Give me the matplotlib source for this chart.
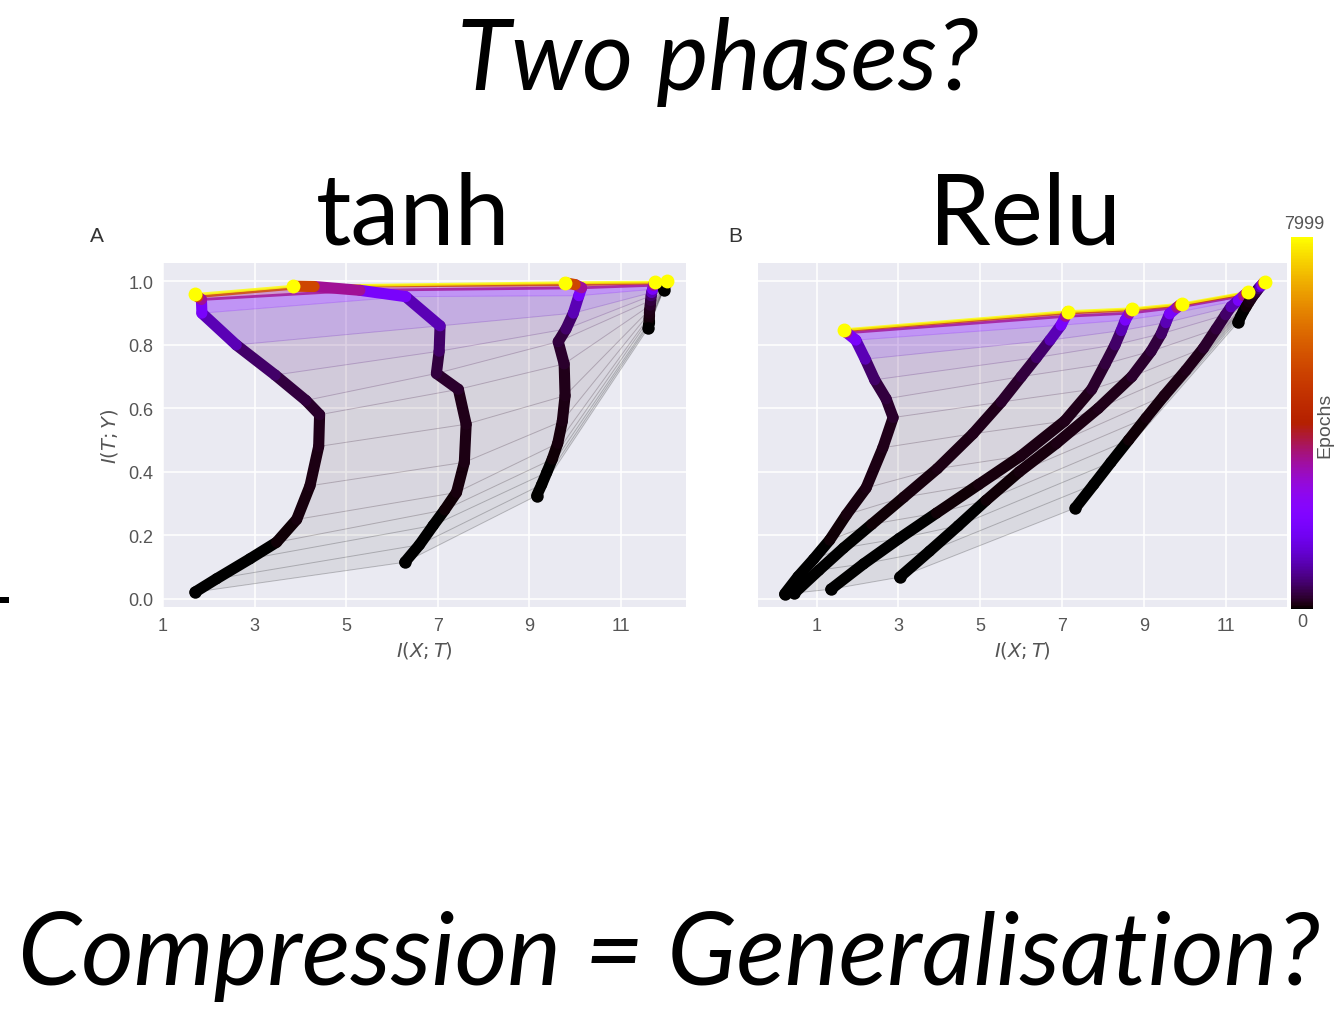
import numpy as np
import matplotlib
matplotlib.use("Agg")
import matplotlib.pyplot as plt
from matplotlib import colors
from matplotlib.collections import LineCollection, PolyCollection
from matplotlib.patches import Rectangle
from matplotlib.colorbar import ColorbarBase

# ---- data: information-plane trajectories, sampled at common epochs ----
epochs = [0, 10, 25, 45, 70, 100, 150, 220, 330, 550, 1000, 1800, 3200, 5200, 7999]
max_epoch = 7999

# tanh network (layers listed from the output side to the input side)
tanh_l5_x = [1.70, 2.17, 2.90, 3.48, 3.92, 4.21, 4.40, 4.42, 4.12, 3.45, 2.60, 1.85, 1.84, 1.76, 1.70]
tanh_l5_y = [0.021, 0.063, 0.126, 0.178, 0.250, 0.356, 0.480, 0.580, 0.625, 0.705, 0.800, 0.900, 0.943, 0.952, 0.959]
tanh_l4_x = [6.28, 6.60, 6.90, 7.15, 7.41, 7.58, 7.62, 7.45, 6.97, 7.03, 7.05, 6.30, 5.30, 4.30, 3.84]
tanh_l4_y = [0.115, 0.170, 0.231, 0.280, 0.335, 0.430, 0.550, 0.660, 0.710, 0.780, 0.860, 0.952, 0.972, 0.984, 0.985]
tanh_l3_x = [9.16, 9.27, 9.38, 9.50, 9.62, 9.72, 9.78, 9.76, 9.63, 9.80, 9.96, 10.08, 10.14, 10.00, 9.78]
tanh_l3_y = [0.325, 0.360, 0.398, 0.440, 0.490, 0.560, 0.640, 0.740, 0.810, 0.850, 0.900, 0.955, 0.980, 0.990, 0.996]
tanh_l2_x = [11.60, 11.60, 11.61, 11.61, 11.62, 11.62, 11.63, 11.64, 11.65, 11.66, 11.67, 11.69, 11.71, 11.73, 11.74]
tanh_l2_y = [0.854, 0.862, 0.870, 0.880, 0.890, 0.900, 0.912, 0.925, 0.940, 0.955, 0.965, 0.975, 0.988, 0.995, 0.998]
tanh_l1_x = [11.93, 11.93, 11.94, 11.94, 11.95, 11.95, 11.96, 11.96, 11.97, 11.97, 11.98, 11.98, 11.99, 12.00, 12.00]
tanh_l1_y = [0.972, 0.975, 0.977, 0.979, 0.981, 0.983, 0.985, 0.987, 0.989, 0.991, 0.993, 0.995, 0.997, 0.999, 1.000]

# ReLU network
relu_l6_x = [0.22, 0.55, 0.93, 1.32, 1.73, 2.21, 2.62, 2.87, 2.70, 2.42, 2.19, 1.96, 1.74, 1.70, 1.68]
relu_l6_y = [0.015, 0.070, 0.125, 0.185, 0.265, 0.349, 0.476, 0.571, 0.630, 0.690, 0.755, 0.815, 0.838, 0.845, 0.848]
relu_l5_x = [0.46, 1.06, 1.66, 2.35, 3.13, 3.95, 4.82, 5.51, 6.00, 6.37, 6.70, 6.97, 7.08, 7.12, 7.14]
relu_l5_y = [0.018, 0.090, 0.160, 0.235, 0.320, 0.410, 0.520, 0.620, 0.700, 0.760, 0.815, 0.862, 0.890, 0.900, 0.905]
relu_l4_x = [1.35, 2.15, 3.02, 3.93, 4.96, 5.99, 7.06, 7.72, 8.05, 8.29, 8.44, 8.54, 8.64, 8.69, 8.71]
relu_l4_y = [0.030, 0.110, 0.190, 0.270, 0.360, 0.450, 0.560, 0.660, 0.740, 0.800, 0.845, 0.878, 0.900, 0.910, 0.914]
relu_l3_x = [3.03, 3.76, 4.46, 5.14, 5.95, 6.86, 7.88, 8.70, 9.17, 9.42, 9.53, 9.62, 9.80, 9.87, 9.92]
relu_l3_y = [0.068, 0.150, 0.230, 0.310, 0.400, 0.490, 0.600, 0.700, 0.780, 0.835, 0.870, 0.898, 0.918, 0.925, 0.929]
relu_l2_x = [7.32, 7.77, 8.19, 8.62, 9.05, 9.49, 10.02, 10.45, 10.76, 10.99, 11.12, 11.30, 11.43, 11.50, 11.54]
relu_l2_y = [0.286, 0.360, 0.430, 0.500, 0.570, 0.640, 0.720, 0.790, 0.850, 0.895, 0.920, 0.940, 0.955, 0.962, 0.966]
relu_l1_x = [11.29, 11.36, 11.42, 11.49, 11.56, 11.61, 11.66, 11.71, 11.75, 11.79, 11.83, 11.87, 11.90, 11.92, 11.94]
relu_l1_y = [0.871, 0.890, 0.905, 0.920, 0.935, 0.945, 0.955, 0.963, 0.970, 0.977, 0.983, 0.988, 0.993, 0.996, 0.998]

x_ticks = [1, 3, 5, 7, 9, 11]
y_ticks = [0.0, 0.2, 0.4, 0.6, 0.8, 1.0]

# ---- styling ----
cmap = plt.get_cmap("gnuplot")
norm = colors.Normalize(0, max_epoch)
BG = "#EAEAF2"
TICK_GREY = "#555555"
plt.rcParams["font.family"] = ["Liberation Sans", "DejaVu Sans"]
plt.rcParams["mathtext.fontset"] = "dejavusans"


def draw_info_plane(ax, layers):
    ep = np.asarray(epochs, dtype=float)
    X = np.array([lx for lx, ly in layers])
    Y = np.array([ly for lx, ly in layers])
    n_layers, n_ep = X.shape

    # translucent sheet spanned by the layer-to-layer lines of consecutive epochs
    quads, qcols = [], []
    for l in range(n_layers - 1):
        for i in range(n_ep - 1):
            quads.append([(X[l, i], Y[l, i]), (X[l + 1, i], Y[l + 1, i]),
                          (X[l + 1, i + 1], Y[l + 1, i + 1]), (X[l, i + 1], Y[l, i + 1])])
            f = norm(ep[i])
            r, g, b, _ = cmap(f)
            qcols.append((r, g, b, 0.07 + 0.3 * min(1.0, f / 0.2)))
    ax.add_collection(PolyCollection(quads, facecolors=qcols, edgecolors="none", zorder=2))

    # lines joining the layers at each sampled epoch
    segs, lcols, lws = [], [], []
    for i in range(n_ep):
        f = norm(ep[i])
        r, g, b, _ = cmap(f)
        segs.append(np.column_stack([X[:, i], Y[:, i]]))
        late = f > 0.3
        lcols.append((r, g, b, 0.8 if late else 0.22))
        lws.append(2.0 if late else 0.7)
    ax.add_collection(LineCollection(segs, colors=lcols, linewidths=lws, zorder=3))

    # thick trajectories of every layer, coloured by epoch
    for l in range(n_layers):
        tsegs, tcols = [], []
        for i in range(n_ep - 1):
            tsegs.append([(X[l, i], Y[l, i]), (X[l, i + 1], Y[l, i + 1])])
            tcols.append(cmap(norm(ep[i])))
        lc = LineCollection(tsegs, colors=tcols, linewidths=8, zorder=4,
                            capstyle="round", joinstyle="round")
        ax.add_collection(lc)
        ax.scatter([X[l, 0]], [Y[l, 0]], s=80, color=cmap(0.0), zorder=5, linewidths=0)
        ax.scatter([X[l, -1]], [Y[l, -1]], s=100, color=cmap(1.0), zorder=6, linewidths=0)


def style_axes(ax, xlim, show_y):
    ax.set_facecolor(BG)
    for s in ax.spines.values():
        s.set_visible(False)
    ax.set_xlim(*xlim)
    ax.set_ylim(-0.026, 1.058)
    ax.set_xticks(x_ticks)
    ax.set_yticks(y_ticks)
    ax.set_xticklabels([str(t) for t in x_ticks])
    if show_y:
        ax.set_yticklabels([f"{t:.1f}" for t in y_ticks])
    else:
        ax.set_yticklabels([])
    ax.tick_params(length=0, labelsize=13, colors=TICK_GREY, pad=7)
    ax.grid(True, color="white", linewidth=1.1, zorder=0)
    ax.set_axisbelow(True)
    ax.set_xlabel("$I(X; T)$", fontsize=14, color=TICK_GREY, labelpad=4)


fig = plt.figure(figsize=(13.38, 10.12), dpi=100)
fig.patch.set_facecolor("white")

ax_a = fig.add_axes([0.1218, 0.3992, 0.3909, 0.3399])
ax_b = fig.add_axes([0.5665, 0.3992, 0.3954, 0.3399])

draw_info_plane(ax_a, [(tanh_l5_x, tanh_l5_y), (tanh_l4_x, tanh_l4_y), (tanh_l3_x, tanh_l3_y),
                       (tanh_l2_x, tanh_l2_y), (tanh_l1_x, tanh_l1_y)])
draw_info_plane(ax_b, [(relu_l6_x, relu_l6_y), (relu_l5_x, relu_l5_y), (relu_l4_x, relu_l4_y),
                       (relu_l3_x, relu_l3_y), (relu_l2_x, relu_l2_y), (relu_l1_x, relu_l1_y)])
style_axes(ax_a, (1.0, 12.42), True)
style_axes(ax_b, (-0.43, 12.49), False)
ax_a.set_ylabel("$I(T; Y)$", fontsize=14, color=TICK_GREY, labelpad=6)

# epoch colour bar
cax = fig.add_axes([0.9649, 0.397, 0.0164, 0.3676])
cb = ColorbarBase(cax, cmap=cmap, norm=norm, orientation="vertical")
cb.outline.set_visible(False)
cax.set_yticks([])
fig.text(0.9746, 0.7777, str(max_epoch), ha="center", va="center", fontsize=13, color=TICK_GREY)
fig.text(0.9730, 0.3844, "0", ha="center", va="center", fontsize=13, color=TICK_GREY)
fig.text(0.9905, 0.58, "Epochs", ha="center", va="center", rotation=90, fontsize=14, color=TICK_GREY)

# panel letters
fig.text(0.0725, 0.766, "A", ha="center", va="center", fontsize=15, color="#333333")
fig.text(0.5493, 0.766, "B", ha="center", va="center", fontsize=15, color="#333333")

# slide headings
fig.text(0.5366, 0.911, "Two phases?", ha="center", va="baseline", fontsize=71,
         family=["Lato", "DejaVu Sans"], style="italic", color="black")
fig.text(0.309, 0.758, "tanh", ha="center", va="baseline", fontsize=71,
         family=["Lato", "DejaVu Sans"], color="black")
fig.text(0.766, 0.758, "Relu", ha="center", va="baseline", fontsize=71,
         family=["Lato", "DejaVu Sans"], color="black")
fig.text(0.5, 0.0267, "Compression = Generalisation?", ha="center", va="baseline", fontsize=73,
         family=["Lato", "DejaVu Sans"], style="italic", color="black")

# small dash on the left margin
fig.add_artist(Rectangle((0.0, 1 - 604 / 1012), 0.0067, 6 / 1012, transform=fig.transFigure,
                         facecolor="black", edgecolor="none"))

fig.savefig("out.png", dpi=100, facecolor="white")
